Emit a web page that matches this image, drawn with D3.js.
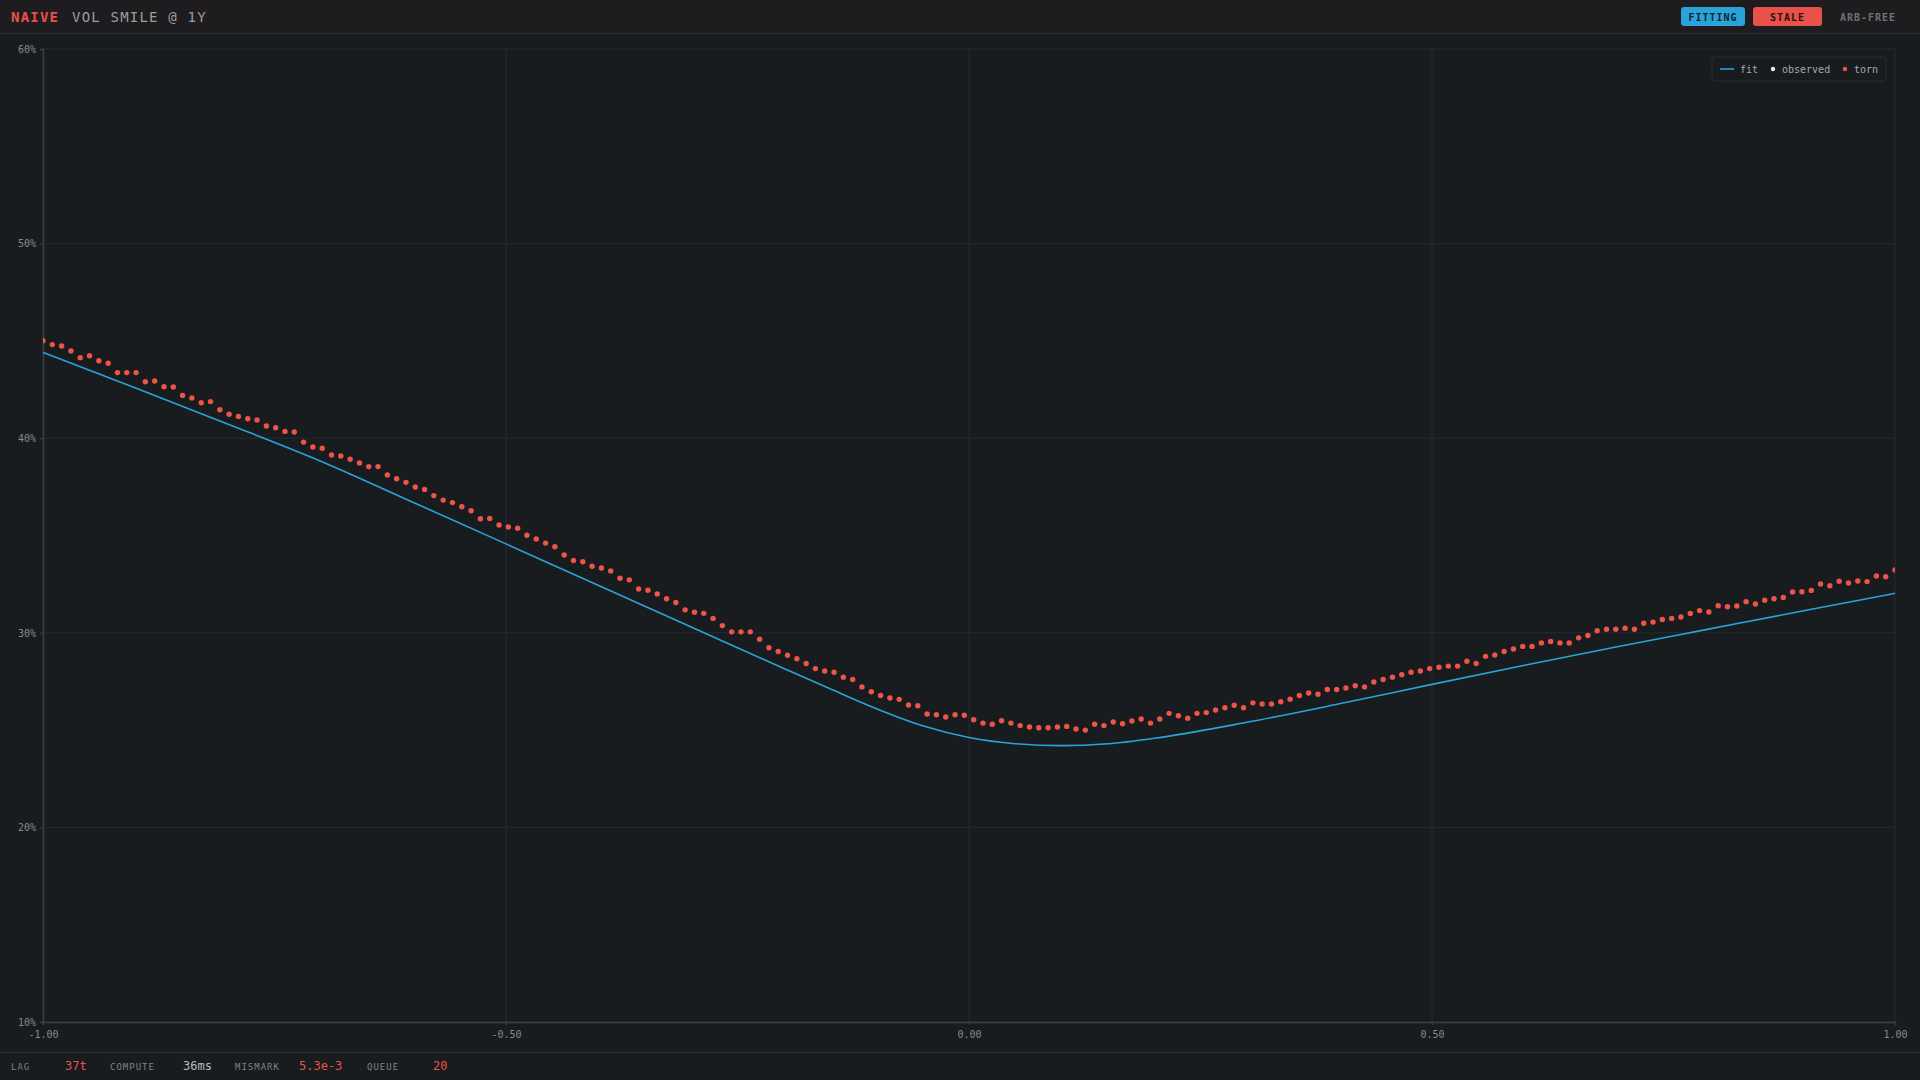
<!DOCTYPE html>
<html>
<head>
<meta charset="utf-8">
<script src="https://cdn.jsdelivr.net/npm/d3@7"></script>
<style>
  html, body { margin: 0; padding: 0; background: #181c1f; }
  svg { display: block; font-family: "DejaVu Sans Mono", "Liberation Mono", monospace; }
</style>
</head>
<body>
<svg id="chart" width="1920" height="1080"></svg>
<script>
// moneyness grid runs -1 .. 1, one torn quote per step
const strikeDomain = [-1, 1];
const xTicks = [-1, -0.5, 0, 0.5, 1];
const yTicks = [10, 20, 30, 40, 50, 60];

// fitted smile, sampled along moneyness
const fitK = [-1, -0.9, -0.8, -0.7, -0.6, -0.5, -0.4, -0.3, -0.2, -0.15, -0.1, -0.05, 0,
  0.05, 0.1, 0.15, 0.2, 0.3, 0.4, 0.5, 0.6, 0.7, 0.8, 0.9, 1];
const fitVol = [44.41, 42.58, 40.72, 38.82, 36.7, 34.57, 32.43, 30.3, 28.17, 27.12, 26.1, 25.22, 24.62,
  24.3, 24.2, 24.3, 24.58, 25.4, 26.35, 27.35, 28.33, 29.28, 30.2, 31.12, 32.03];

// torn quotes (vol %), 200 points evenly spaced over the grid
const tornVol = [
  45.01, 44.81, 44.74, 44.48, 44.14, 44.24, 43.98, 43.85, 43.37, 43.37,
  43.37, 42.90, 42.94, 42.65, 42.63, 42.20, 42.07, 41.82, 41.88, 41.46,
  41.23, 41.12, 41.00, 40.94, 40.63, 40.54, 40.35, 40.32, 39.80, 39.55,
  39.48, 39.14, 39.09, 38.92, 38.73, 38.54, 38.54, 38.11, 37.92, 37.73,
  37.49, 37.37, 37.05, 36.82, 36.69, 36.48, 36.27, 35.86, 35.88, 35.54,
  35.44, 35.37, 35.01, 34.82, 34.61, 34.42, 34.00, 33.72, 33.65, 33.42,
  33.33, 33.18, 32.80, 32.72, 32.25, 32.19, 32.00, 31.75, 31.56, 31.18,
  31.06, 31.00, 30.74, 30.37, 30.05, 30.05, 30.05, 29.67, 29.23, 29.04,
  28.85, 28.67, 28.42, 28.16, 28.04, 27.97, 27.72, 27.60, 27.22, 26.97,
  26.78, 26.65, 26.58, 26.29, 26.25, 25.83, 25.79, 25.67, 25.79, 25.76,
  25.53, 25.36, 25.30, 25.48, 25.36, 25.23, 25.16, 25.12, 25.12, 25.16,
  25.19, 25.06, 25.00, 25.30, 25.23, 25.42, 25.33, 25.47, 25.57, 25.36,
  25.57, 25.86, 25.74, 25.61, 25.86, 25.90, 26.03, 26.15, 26.28, 26.15,
  26.40, 26.34, 26.34, 26.46, 26.59, 26.78, 26.91, 26.84, 27.09, 27.09,
  27.16, 27.28, 27.22, 27.47, 27.60, 27.72, 27.85, 27.97, 28.04, 28.16,
  28.23, 28.29, 28.29, 28.54, 28.42, 28.79, 28.86, 29.04, 29.17, 29.30,
  29.30, 29.48, 29.55, 29.48, 29.48, 29.74, 29.86, 30.11, 30.18, 30.18,
  30.24, 30.18, 30.49, 30.55, 30.68, 30.74, 30.81, 30.99, 31.14, 31.07,
  31.39, 31.34, 31.38, 31.60, 31.48, 31.67, 31.75, 31.82, 32.10, 32.11,
  32.18, 32.51, 32.42, 32.65, 32.56, 32.66, 32.63, 32.92, 32.88, 33.23
];

const badges = [
  { label: "FITTING", fill: "#2aa3d8", color: "#0f2430" },
  { label: "STALE", fill: "#e8524a", color: "#2a1212" },
  { label: "ARB-FREE", fill: "none", color: "#6e7378" }
];

const stats = [
  { label: "LAG", value: "37t", color: "#e8524a" },
  { label: "COMPUTE", value: "36ms", color: "#b8bcc0" },
  { label: "MISMARK", value: "5.3e-3", color: "#e8524a" },
  { label: "QUEUE", value: "20", color: "#e8524a" }
];

const W = 1920, H = 1080;
const margin = { top: 49, right: 25, bottom: 58, left: 43 };
const innerW = W - margin.left - margin.right;
const innerH = H - margin.top - margin.bottom;

const svg = d3.select("#chart");

// header band
svg.append("rect").attr("x", 0).attr("y", 0).attr("width", W).attr("height", 33).attr("fill", "#1e1c1f");
svg.append("line").attr("x1", 0).attr("x2", W).attr("y1", 33.5).attr("y2", 33.5).attr("stroke", "#2b2a2e");

svg.append("text").attr("x", 11).attr("y", 21.5)
  .attr("fill", "#e8524a").attr("font-size", 14).attr("font-weight", "bold")
  .attr("letter-spacing", 1.2).text("NAIVE");
svg.append("text").attr("x", 72).attr("y", 21.5)
  .attr("fill", "#9a9ea2").attr("font-size", 14)
  .attr("letter-spacing", 1.2).text("VOL SMILE @ 1Y");

const badgeX = [1681, 1753, 1833];
const badgeW = [64, 69, 70];
badges.forEach((b, i) => {
  const g = svg.append("g").attr("transform", "translate(" + badgeX[i] + ",7)");
  if (b.fill !== "none") {
    g.append("rect").attr("width", badgeW[i]).attr("height", 19).attr("rx", 3).attr("fill", b.fill);
  }
  g.append("text").attr("x", badgeW[i] / 2).attr("y", 13.5)
    .attr("text-anchor", "middle").attr("font-size", 10).attr("font-weight", "bold")
    .attr("letter-spacing", 1).attr("fill", b.color).text(b.label);
});

// plot
const x = d3.scaleLinear().domain(strikeDomain).range([0, innerW]);
const y = d3.scaleLinear().domain([10, 60]).range([innerH, 0]);
const idx = d3.scaleLinear().domain([0, tornVol.length - 1]).range(strikeDomain);

const plot = svg.append("g").attr("transform", "translate(" + margin.left + "," + margin.top + ")");

svg.append("defs").append("clipPath").attr("id", "clip")
  .append("rect").attr("x", 0).attr("y", 0).attr("width", innerW).attr("height", innerH);

plot.append("g").selectAll("line").data(xTicks).join("line")
  .attr("x1", d => x(d)).attr("x2", d => x(d)).attr("y1", 0).attr("y2", innerH)
  .attr("stroke", "#232a2e").attr("stroke-width", 1);
plot.append("g").selectAll("line").data(yTicks).join("line")
  .attr("x1", 0).attr("x2", innerW).attr("y1", d => y(d)).attr("y2", d => y(d))
  .attr("stroke", "#232a2e").attr("stroke-width", 1);

const xAxis = plot.append("g").attr("transform", "translate(0," + innerH + ")")
  .call(d3.axisBottom(x).tickValues(xTicks).tickFormat(d => d.toFixed(2)).tickSize(3).tickPadding(6));
const yAxis = plot.append("g")
  .call(d3.axisLeft(y).tickValues(yTicks).tickFormat(d => d + "%").tickSize(3).tickPadding(4));

[xAxis, yAxis].forEach(a => {
  a.select(".domain").attr("stroke", "#3a4146").attr("stroke-width", 1.5);
  a.selectAll(".tick line").attr("stroke", "#3a4146");
  a.selectAll("text").attr("fill", "#868b90").attr("font-size", 10)
    .attr("font-family", "DejaVu Sans Mono, monospace");
});

const body = plot.append("g").attr("clip-path", "url(#clip)");

const fitLine = d3.line()
  .x((d, i) => x(fitK[i]))
  .y(d => y(d))
  .curve(d3.curveMonotoneX);

body.append("path").datum(fitVol)
  .attr("fill", "none").attr("stroke", "#2aa3d8").attr("stroke-width", 1.6)
  .attr("d", fitLine);

body.append("g").selectAll("circle").data(tornVol).join("circle")
  .attr("cx", (d, i) => x(idx(i)))
  .attr("cy", d => y(d))
  .attr("r", 2.7)
  .attr("fill", "#ee5448");

// legend
const leg = svg.append("g").attr("transform", "translate(1712,57)");
leg.append("rect").attr("width", 174).attr("height", 24).attr("rx", 3)
  .attr("fill", "#181c1f").attr("stroke", "#262c30");
leg.append("line").attr("x1", 8).attr("x2", 22).attr("y1", 12).attr("y2", 12)
  .attr("stroke", "#2aa3d8").attr("stroke-width", 1.6);
leg.append("text").attr("x", 28).attr("y", 15.5).attr("font-size", 10).attr("fill", "#a6aaae").text("fit");
leg.append("circle").attr("cx", 61).attr("cy", 12).attr("r", 2.2).attr("fill", "#e8eaec");
leg.append("text").attr("x", 70).attr("y", 15.5).attr("font-size", 10).attr("fill", "#a6aaae").text("observed");
leg.append("circle").attr("cx", 133).attr("cy", 12).attr("r", 2.2).attr("fill", "#ee5448");
leg.append("text").attr("x", 142).attr("y", 15.5).attr("font-size", 10).attr("fill", "#a6aaae").text("torn");

// footer stats
svg.append("line").attr("x1", 0).attr("x2", W).attr("y1", 1052.5).attr("y2", 1052.5).attr("stroke", "#2a3034");
const labelX = [11, 110, 235, 367];
const valueX = [65, 183, 299, 433];
stats.forEach((s, i) => {
  svg.append("text").attr("x", labelX[i]).attr("y", 1070).attr("font-size", 9)
    .attr("letter-spacing", 1).attr("fill", "#7d8287").text(s.label);
  svg.append("text").attr("x", valueX[i]).attr("y", 1070).attr("font-size", 12)
    .attr("fill", s.color).text(s.value);
});
</script>
</body>
</html>
